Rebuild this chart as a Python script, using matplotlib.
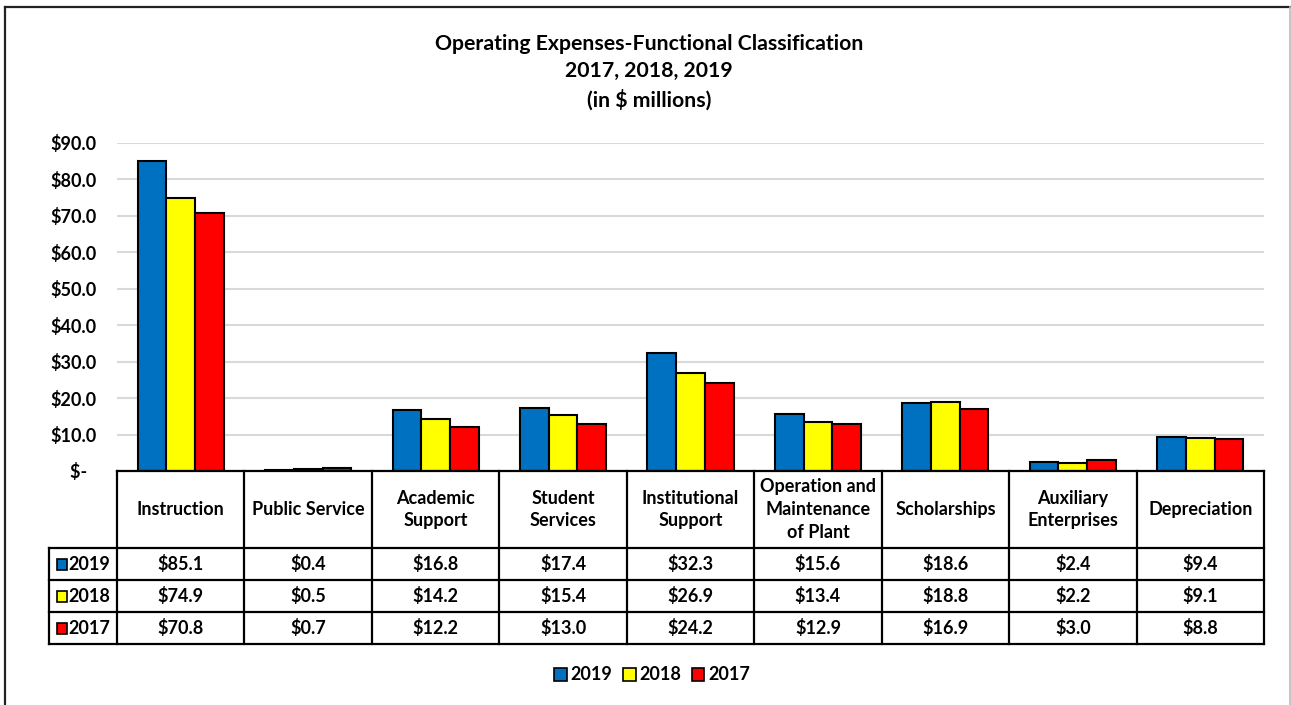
import numpy as np
import matplotlib
matplotlib.use("Agg")
import matplotlib.pyplot as plt
from matplotlib.patches import Patch, Rectangle
from matplotlib.lines import Line2D

categories = ["Instruction", "Public Service", "Academic\nSupport", "Student\nServices",
              "Institutional\nSupport", "Operation and\nMaintenance\nof Plant", "Scholarships",
              "Auxiliary\nEnterprises", "Depreciation"]
years = ["2019", "2018", "2017"]
v2019 = [85.1, 0.4, 16.8, 17.4, 32.3, 15.6, 18.6, 2.4, 9.4]
v2018 = [74.9, 0.5, 14.2, 15.4, 26.9, 13.4, 18.8, 2.2, 9.1]
v2017 = [70.8, 0.7, 12.2, 13.0, 24.2, 12.9, 16.9, 3.0, 8.8]
colors = ["#0070C0", "#FFFF00", "#FF0000"]
yticks = [0, 10, 20, 30, 40, 50, 60, 70, 80, 90]

plt.rcParams['font.family'] = ['Lato', 'DejaVu Sans']
plt.rcParams['font.weight'] = 'bold'

W, H = 1291, 705
fig = plt.figure(figsize=(W / 100, H / 100), dpi=100)

def fx(px):
    return px / W

def fy(py):
    return 1 - py / H

FS = 13

# outer border
fig.add_artist(Line2D([fx(5), fx(5)], [fy(7), 0], color='#222222', lw=1.6))
fig.add_artist(Line2D([fx(5), fx(1290)], [fy(7), fy(7)], color='#222222', lw=1.6))
fig.add_artist(Line2D([fx(1289.5), fx(1289.5)], [fy(7), 0], color='#bbbbbb', lw=1.2))

# title
for txt, yy in [("Operating Expenses-Functional Classification", 44), ("2017, 2018, 2019", 71),
                ("(in $ millions)", 100)]:
    fig.text(fx(649), fy(yy), txt, ha='center', va='center', fontsize=15.3, fontweight='bold')

ax = fig.add_axes([fx(117), fy(471), fx(1264) - fx(117), fy(143) - fy(471)])
series = [v2019, v2018, v2017]
x = np.arange(len(categories)) + 0.5
bw = 0.225
ax.set_axisbelow(True)
for i, (vals, col) in enumerate(zip(series, colors)):
    ax.bar(x + (i - 1) * bw, vals, bw, color=col, edgecolor='black', linewidth=1.5, zorder=3)
ax.set_xlim(0, len(categories))
ax.set_ylim(0, 90)
ax.set_yticks(yticks)
ax.set_yticklabels(["$-  "] + ["$%.1f" % t for t in yticks[1:]])
ax.set_xticks([])
ax.tick_params(axis='y', length=0, pad=15, labelsize=FS)
for lab in ax.get_yticklabels():
    lab.set_fontweight('bold')
for s in ax.spines.values():
    s.set_visible(False)
ax.yaxis.grid(True, color='#d9d9d9', lw=1.5, zorder=0)

# data table
tax = fig.add_axes([fx(49), fy(644), fx(1264) - fx(49), fy(471) - fy(644)])
left = -(117 - 49) / 127.44
tax.set_xlim(left, len(categories))
tax.set_ylim(173, 0)
tax.axis('off')
lk = dict(color='black', lw=1.6, clip_on=False, solid_capstyle='projecting')
tax.plot([0, len(categories)], [0, 0], **lk)
for yy in [77, 109, 141, 173]:
    tax.plot([left, len(categories)], [yy, yy], **lk)
tax.plot([left, left], [77, 173], **lk)
for i in range(len(categories) + 1):
    tax.plot([i, i], [0, 173], **lk)
for i, c in enumerate(categories):
    tax.text(i + 0.5, 38.5, c, ha='center', va='center', fontsize=FS, fontweight='bold',
             linespacing=1.42)
row_y = [93, 125, 157]
for r, (yr, vals, col) in enumerate(zip(years, series, colors)):
    tax.add_patch(Rectangle((-0.47, row_y[r] - 5.5), 0.075, 11, facecolor=col, edgecolor='black',
                            lw=1.2, clip_on=False))
    tax.text(-0.385, row_y[r], yr, ha='left', va='center', fontsize=FS, fontweight='bold')
    for i, v in enumerate(vals):
        tax.text(i + 0.5, row_y[r], "$%.1f" % v, ha='center', va='center', fontsize=FS,
                 fontweight='bold')

handles = [Patch(facecolor=c, edgecolor='black', lw=1.2, label=y) for c, y in zip(colors, years)]
fig.legend(handles=handles, loc='center', bbox_to_anchor=(fx(652), fy(675)), ncol=3, frameon=False,
           handlelength=0.7, handleheight=0.7, handletextpad=0.2, columnspacing=0.6,
           prop={'size': FS, 'weight': 'bold'})

fig.savefig("out.png", dpi=100)
